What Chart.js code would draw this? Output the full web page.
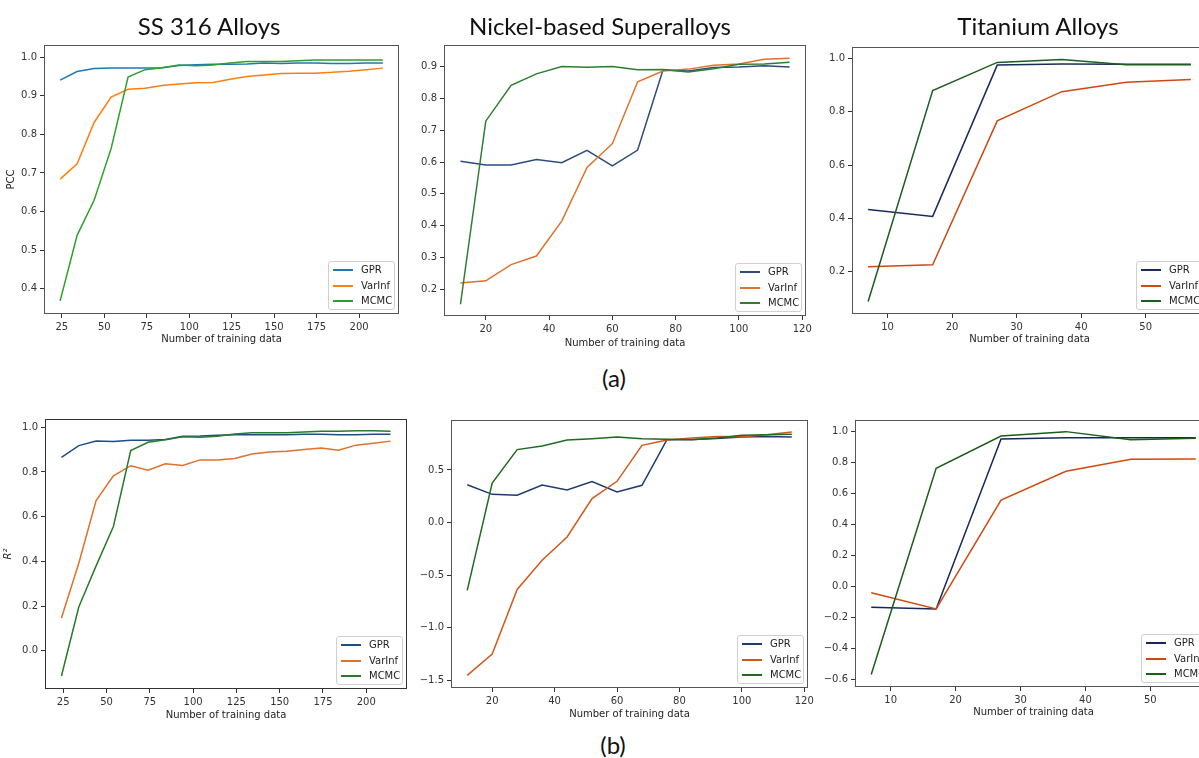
<!DOCTYPE html>
<html><head><meta charset="utf-8">
<script src="https://cdn.jsdelivr.net/npm/chart.js@4/dist/chart.umd.min.js"></script>
<style>
html,body{margin:0;padding:0;background:#fff;}
body{width:1199px;height:758px;overflow:hidden;position:relative;}
canvas{position:absolute;}
.title{position:absolute;font-family:Lato,"Open Sans",sans-serif;font-size:24px;line-height:24px;color:#111;transform:translate(-50%,-50%);white-space:nowrap;}
.legend{position:absolute;background:rgba(255,255,255,0.85);border:1px solid #d0d0d0;border-radius:3px;box-sizing:border-box;font-family:"DejaVu Sans",sans-serif;font-size:10px;color:#222;}
.legend .row{position:absolute;left:0;height:12px;width:100%;}
.legend .sw{position:absolute;left:4px;width:20px;top:5px;height:2px;}
.legend .lb{position:absolute;left:32px;top:0px;line-height:12px;white-space:nowrap;}
</style>
</head><body>
<script>
// ---------- data ----------
const seriesNames = ['GPR', 'VarInf', 'MCMC'];
const xLabel = 'Number of training data';
const panelTitles = ['SS 316 Alloys', 'Nickel-based Superalloys', 'Titanium Alloys'];
const figLabels = ['(a)', '(b)'];

const xSS = [24,34,44,54,64,74,84,94,104,114,124,134,144,154,164,174,184,194,204,214];
const xNi = [12,20,28,36,44,52,60,68,76,84,92,100,108,116];
const xTi = [7,17,27,37,47,57];

// (a) PCC
const ssPccGPR    = [0.941,0.963,0.971,0.972,0.972,0.972,0.973,0.979,0.981,0.982,0.982,0.983,0.985,0.984,0.985,0.985,0.984,0.984,0.985,0.985];
const ssPccVarInf = [0.684,0.724,0.831,0.897,0.917,0.920,0.927,0.931,0.934,0.935,0.943,0.950,0.954,0.958,0.959,0.959,0.961,0.964,0.968,0.972];
const ssPccMCMC   = [0.368,0.538,0.629,0.763,0.949,0.968,0.973,0.980,0.978,0.980,0.985,0.989,0.989,0.989,0.991,0.993,0.993,0.993,0.993,0.993];

const niPccGPR    = [0.603,0.591,0.591,0.608,0.598,0.637,0.588,0.638,0.890,0.887,0.898,0.900,0.904,0.900];
const niPccVarInf = [0.219,0.226,0.277,0.304,0.414,0.583,0.658,0.853,0.887,0.893,0.905,0.909,0.924,0.927];
const niPccMCMC   = [0.152,0.729,0.842,0.878,0.901,0.899,0.901,0.891,0.892,0.884,0.894,0.908,0.909,0.915];

const tiPccGPR    = [0.433,0.407,0.976,0.980,0.979,0.979];
const tiPccVarInf = [0.218,0.225,0.766,0.876,0.911,0.922];
const tiPccMCMC   = [0.087,0.880,0.986,0.997,0.977,0.977];

// (b) R2
const ssR2GPR    = [0.865,0.918,0.939,0.936,0.942,0.942,0.945,0.960,0.961,0.964,0.966,0.966,0.967,0.967,0.969,0.969,0.966,0.966,0.969,0.969];
const ssR2VarInf = [0.147,0.392,0.672,0.783,0.828,0.808,0.837,0.829,0.854,0.854,0.860,0.880,0.889,0.893,0.900,0.907,0.897,0.920,0.929,0.938];
const ssR2MCMC   = [-0.113,0.196,0.380,0.556,0.896,0.933,0.944,0.958,0.955,0.960,0.970,0.975,0.975,0.975,0.979,0.982,0.982,0.984,0.984,0.982];

const niR2GPR    = [0.360,0.268,0.259,0.357,0.310,0.389,0.290,0.354,0.789,0.790,0.800,0.815,0.820,0.815];
const niR2VarInf = [-1.456,-1.252,-0.637,-0.360,-0.138,0.227,0.392,0.735,0.786,0.805,0.820,0.817,0.836,0.862];
const niR2MCMC   = [-0.646,0.376,0.694,0.729,0.786,0.798,0.814,0.798,0.792,0.789,0.805,0.830,0.836,0.840];

const tiR2GPR    = [-0.133,-0.144,0.953,0.961,0.961,0.961];
const tiR2VarInf = [-0.039,-0.144,0.559,0.744,0.822,0.824];
const tiR2MCMC   = [-0.566,0.763,0.972,1.000,0.948,0.957];

// tick labels
const xTicksSS = [25,50,75,100,125,150,175,200];
const xTicksNi = [20,40,60,80,100,120];
const xTicksTi = [10,20,30,40,50];
const yTicksPccSS = [0.4,0.5,0.6,0.7,0.8,0.9,1.0];
const yTicksPccNi = [0.2,0.3,0.4,0.5,0.6,0.7,0.8,0.9];
const yTicksPccTi = [0.2,0.4,0.6,0.8,1.0];
const yTicksR2SS = [0.0,0.2,0.4,0.6,0.8,1.0];
const yTicksR2Ni = [-1.5,-1.0,-0.5,0.0,0.5];
const yTicksR2Ti = [-0.6,-0.4,-0.2,0.0,0.2,0.4,0.6,0.8,1.0];

// ---------- styles / layout ----------
const colorsTab = ['#1f77b4','#ff7f0e','#2ca02c'];
const colorsNiA = ['#2b4c7e','#e2712b','#2e7d32'];
const colorsTiA = ['#1a2a5e','#cc4a12','#1b5e20'];
const colorsSSB = ['#1f4e85','#e0702a','#2a7a2a'];
const colorsNiB = ['#1f3a70','#d2581a','#1e6b1e'];
const colorsTiB = ['#15285e','#d04a10','#1a5e1a'];

const panels = [
  {x:xSS, s:[ssPccGPR,ssPccVarInf,ssPccMCMC], c:colorsTab, xt:xTicksSS, yt:yTicksPccSS, xr:[14.5,223.5], yr:[0.334,1.032], L:44,T:45,R:399,B:314, cl:0, H:31, yTitle:'PCC', yTitlePad:5.7, yItalic:false, frame:'#555'},
  {x:xNi, s:[niPccGPR,niPccVarInf,niPccMCMC], c:colorsNiA, xt:xTicksNi, yt:yTicksPccNi, xr:[6.8,121.2], yr:[0.115,0.969], L:444,T:45,R:806,B:316, cl:394, H:33, frame:'#555'},
  {x:xTi, s:[tiPccGPR,tiPccVarInf,tiPccMCMC], c:colorsTiA, xt:xTicksTi, yt:yTicksPccTi, xr:[4.5,59.5], yr:[0.040,1.044], L:852,T:47,R:1207,B:314, cl:812, H:31, frame:'#555'},
  {x:xSS, s:[ssR2GPR,ssR2VarInf,ssR2MCMC], c:colorsSSB, xt:xTicksSS, yt:yTicksR2SS, xr:[14.5,223.5], yr:[-0.171,1.037], L:45,T:419,R:407,B:689, cl:0, H:32, yTitle:'R²', yTitlePad:2.3, yItalic:true, frame:'#333'},
  {x:xNi, s:[niR2GPR,niR2VarInf,niR2MCMC], c:colorsNiB, xt:xTicksNi, yt:yTicksR2Ni, xr:[6.8,121.2], yr:[-1.576,0.976], L:451,T:420,R:808,B:688, cl:401, H:32, frame:'#555'},
  {x:xTi, s:[tiR2GPR,tiR2VarInf,tiR2MCMC], c:colorsTiB, xt:xTicksTi, yt:yTicksR2Ti, xr:[4.5,59.5], yr:[-0.647,1.075], L:855,T:420,R:1212,B:687, cl:810, H:31, frame:'#555'}
];

const titlePos = [[209,26],[600,26],[1038,26]];
const figLabelPos = [[614,378],[613,745]];

const tickFont = {family:'"DejaVu Sans", sans-serif', size:10};
const fmt = v => { const s = (Math.abs(v) < 1e-9 ? 0 : v).toFixed(1); return s.replace('-', '\u2212'); };

const framePlugin = {
  id:'frame',
  afterDatasetsDraw(chart, args, opts){
    const {ctx, chartArea:a} = chart;
    ctx.save();
    ctx.strokeStyle = opts.color || '#555';
    ctx.lineWidth = 1;
    const l = Math.round(a.left)+0.5, t = Math.round(a.top)+0.5, r = Math.round(a.right)-0.5, b = Math.round(a.bottom)-0.5;
    ctx.strokeRect(l, t, r-l, b-t);
    ctx.restore();
  }
};

function makeChart(p){
  const pt = 10, pr = 15;
  const W = p.L - p.cl;
  const cw = W + (p.R - p.L) + pr;
  const ch = pt + (p.B - p.T) + p.H;
  const c = document.createElement('canvas');
  c.width = cw; c.height = ch;
  c.style.left = p.cl + 'px'; c.style.top = (p.T - pt) + 'px';
  c.style.width = cw + 'px'; c.style.height = ch + 'px';
  document.body.appendChild(c);
  new Chart(c, {
    type:'line',
    data:{
      datasets: p.s.map((arr,i) => ({
        label: seriesNames[i],
        data: p.x.map((xv,j) => ({x:xv, y:arr[j]})),
        borderColor: p.c[i], backgroundColor: p.c[i],
        borderWidth: 1.5, pointRadius: 0, fill: false, tension: 0,
        order: 2 - i
      }))
    },
    options:{
      responsive:false, animation:false, devicePixelRatio:1,
      layout:{padding:{top:pt, right:pr, left:0, bottom:0}},
      plugins:{legend:{display:false}, tooltip:{enabled:false}, frame:{color:p.frame}},
      scales:{
        x:{
          type:'linear', min:p.xr[0], max:p.xr[1],
          afterBuildTicks: s => { s.ticks = p.xt.map(v => ({value:v})); },
          afterFit: s => { s.height = p.H; },
          ticks:{autoSkip:false, maxRotation:0, padding:3, color:'#333', font:tickFont, callback: v => String(v)},
          grid:{display:true, drawOnChartArea:false, drawTicks:true, tickLength:4, tickColor:'#333'},
          border:{display:false},
          title:{display:true, text:xLabel, padding:0, color:'#222', font:tickFont}
        },
        y:{
          type:'linear', min:p.yr[0], max:p.yr[1],
          afterBuildTicks: s => { s.ticks = p.yt.map(v => ({value:v})); },
          afterFit: s => { s.width = W; },
          ticks:{autoSkip:false, padding:3, color:'#333', font:tickFont, callback: v => fmt(v)},
          grid:{display:true, drawOnChartArea:false, drawTicks:true, tickLength:4, tickColor:'#333'},
          border:{display:false},
          title:{display:!!p.yTitle, text:p.yTitle || '', padding:{top:p.yTitlePad || 0, bottom:0}, color:'#222',
                 font:{family:'"DejaVu Sans", sans-serif', size:10, style:p.yItalic ? 'italic' : 'normal'}}
        }
      }
    },
    plugins:[framePlugin]
  });

  // legend (lower right, inside axes)
  const lg = document.createElement('div');
  lg.className = 'legend';
  const lw = 67, lh = 49;
  lg.style.left = (p.R - 4 - lw) + 'px';
  lg.style.top = (p.B - 4 - lh) + 'px';
  lg.style.width = lw + 'px'; lg.style.height = lh + 'px';
  seriesNames.forEach((n,i) => {
    const row = document.createElement('div');
    row.className = 'row';
    row.style.top = Math.round(2 + i*15.5) + 'px';
    const sw = document.createElement('div'); sw.className = 'sw'; sw.style.background = p.c[i];
    const lb = document.createElement('div'); lb.className = 'lb'; lb.textContent = n;
    row.appendChild(sw); row.appendChild(lb); lg.appendChild(row);
  });
  document.body.appendChild(lg);
}

panels.forEach(makeChart);

panelTitles.forEach((t,i) => {
  const d = document.createElement('div'); d.className = 'title'; d.textContent = t;
  d.style.left = titlePos[i][0] + 'px'; d.style.top = titlePos[i][1] + 'px';
  document.body.appendChild(d);
});
figLabels.forEach((t,i) => {
  const d = document.createElement('div'); d.className = 'title'; d.textContent = t;
  d.style.left = figLabelPos[i][0] + 'px'; d.style.top = figLabelPos[i][1] + 'px';
  document.body.appendChild(d);
});
</script>
</body></html>
